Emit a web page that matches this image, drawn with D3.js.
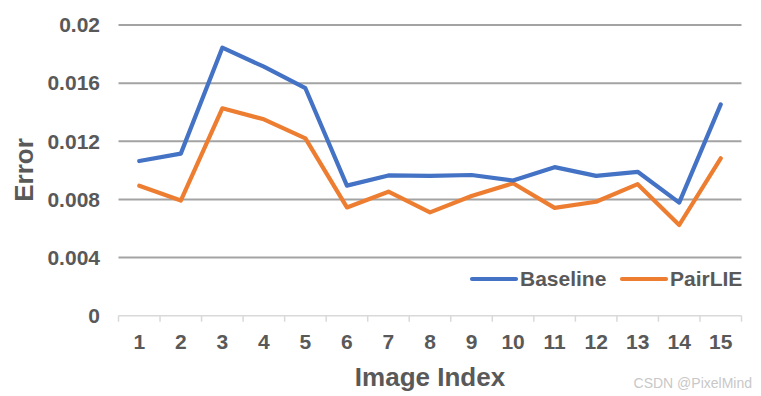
<!DOCTYPE html>
<html>
<head>
<meta charset="utf-8">
<script src="https://cdn.jsdelivr.net/npm/d3@7"></script>
<style>
  body { margin: 0; background: #fff; }
  text { font-family: "Liberation Sans", Arial, sans-serif; }
</style>
</head>
<body>
<div id="chart"></div>
<script>
var imageIndex = [1, 2, 3, 4, 5, 6, 7, 8, 9, 10, 11, 12, 13, 14, 15];
var baseline = [0.01064, 0.01115, 0.01844, 0.01713, 0.01565, 0.00895, 0.00965, 0.00962, 0.00968, 0.00930, 0.01022, 0.00962, 0.00990, 0.00778, 0.01454];
var pairLIE = [0.00894, 0.00792, 0.01427, 0.01351, 0.01220, 0.00745, 0.00853, 0.00711, 0.00823, 0.00911, 0.00742, 0.00784, 0.00905, 0.00624, 0.01083];
var yTicks = [0, 0.004, 0.008, 0.012, 0.016, 0.02];
var yTickLabels = ["0", "0.004", "0.008", "0.012", "0.016", "0.02"];

var width = 761, height = 396;
var plotLeft = 118.5, plotRight = 741.5, plotTop = 25, plotBottom = 315.7;
var textColor = "#595959";

var svg = d3.select("#chart").append("svg")
	.attr("width", width).attr("height", height);

var x = d3.scaleBand().domain(imageIndex).range([plotLeft, plotRight]);
var y = d3.scaleLinear().domain([0, 0.02]).range([plotBottom, plotTop]);

// gridlines
svg.append("g").selectAll("line")
	.data(yTicks.filter(function(d) { return d > 0; }))
	.enter().append("line")
	.attr("x1", plotLeft).attr("x2", plotRight)
	.attr("y1", function(d) { return y(d); })
	.attr("y2", function(d) { return y(d); })
	.attr("stroke", "#a3a3a3").attr("stroke-width", 2);

// y tick labels
svg.append("g").selectAll("text")
	.data(yTicks).enter().append("text")
	.attr("x", 100)
	.attr("y", function(d) { return y(d); })
	.attr("dy", "0.35em")
	.attr("text-anchor", "end")
	.attr("font-size", 21).attr("font-weight", "bold")
	.attr("fill", textColor)
	.text(function(d, i) { return yTickLabels[i]; });

// x axis line with ticks at band edges
var xAxis = svg.append("g");
xAxis.append("line")
	.attr("x1", plotLeft).attr("x2", plotRight)
	.attr("y1", plotBottom).attr("y2", plotBottom)
	.attr("stroke", "#d9d9d9").attr("stroke-width", 1.5);
var edges = imageIndex.map(function(d) { return x(d); }).concat([plotRight]);
xAxis.selectAll("line.tick").data(edges).enter().append("line")
	.attr("class", "tick")
	.attr("x1", function(d) { return d; }).attr("x2", function(d) { return d; })
	.attr("y1", plotBottom).attr("y2", plotBottom + 6)
	.attr("stroke", "#d9d9d9").attr("stroke-width", 1.5);
xAxis.selectAll("text").data(imageIndex).enter().append("text")
	.attr("x", function(d) { return x(d) + x.bandwidth() / 2; })
	.attr("y", 342)
	.attr("dy", "0.35em")
	.attr("text-anchor", "middle")
	.attr("font-size", 21).attr("font-weight", "bold")
	.attr("fill", textColor)
	.text(function(d) { return d; });

// lines
var line = d3.line()
	.x(function(d, i) { return x(imageIndex[i]) + x.bandwidth() / 2; })
	.y(function(d) { return y(d); });

var series = [
	{ name: "Baseline", values: baseline, color: "#4472c4" },
	{ name: "PairLIE", values: pairLIE, color: "#ed7d31" }
];

svg.append("g").selectAll("path")
	.data(series.slice().reverse()).enter().append("path")
	.attr("d", function(d) { return line(d.values); })
	.attr("fill", "none")
	.attr("stroke", function(d) { return d.color; })
	.attr("stroke-width", 4.2)
	.attr("stroke-linejoin", "round")
	.attr("stroke-linecap", "round");

// legend
var legendX = [472, 622];
var legend = svg.append("g").selectAll("g")
	.data(series).enter().append("g")
	.attr("transform", function(d, i) { return "translate(" + legendX[i] + ",279)"; });
legend.append("line")
	.attr("x1", 0).attr("x2", 44)
	.attr("stroke", function(d) { return d.color; })
	.attr("stroke-width", 4.2).attr("stroke-linecap", "round");
legend.append("text")
	.attr("x", 48).attr("dy", "0.35em")
	.attr("font-size", 21).attr("font-weight", "bold")
	.attr("fill", textColor)
	.text(function(d) { return d.name; });

// axis titles
svg.append("text")
	.attr("x", 430).attr("y", 377).attr("dy", "0.35em")
	.attr("text-anchor", "middle")
	.attr("font-size", 26).attr("font-weight", "bold")
	.attr("fill", textColor)
	.text("Image Index");

svg.append("text")
	.attr("transform", "translate(24,170)rotate(-90)")
	.attr("dy", "0.35em")
	.attr("text-anchor", "middle")
	.attr("font-size", 26).attr("font-weight", "bold")
	.attr("fill", textColor)
	.text("Error");

// watermark
svg.append("text")
	.attr("x", 752).attr("y", 383).attr("dy", "0.35em")
	.attr("text-anchor", "end")
	.attr("font-size", 14)
	.attr("fill", "#c8c8c8")
	.text("CSDN @PixelMind");
</script>
</body>
</html>
